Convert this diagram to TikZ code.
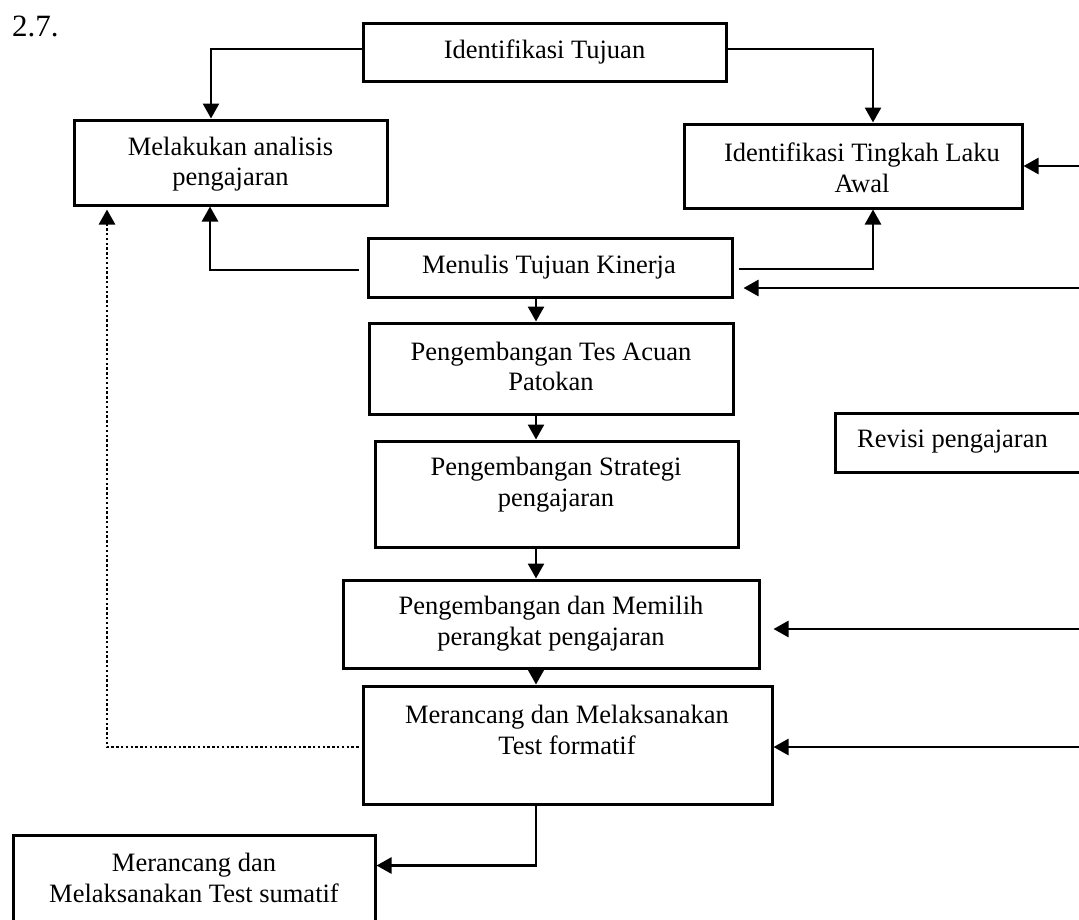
\documentclass[tikz,border=0pt]{standalone}
\usepackage{fontspec}
\setmainfont{Liberation Serif}
\usetikzlibrary{arrows.meta}
\newcommand\boxfont{\fontsize{26.5pt}{30.5pt}\selectfont}
\newcommand\headfont{\fontsize{31pt}{36pt}\selectfont}
\begin{document}
\begin{tikzpicture}[x=1pt,y=-1pt,
  box/.style={draw, line width=3pt, inner sep=0pt},
  txt/.style={font=\boxfont, align=center, inner sep=0pt},
  arr/.style={line width=2.6pt, -{Triangle[length=15pt,width=16pt]}},
  dotline/.style={line width=2.6pt, dash pattern=on 2.4pt off 2.4pt, -{Triangle[length=15pt,width=16pt]}}]
\useasboundingbox (0,0) rectangle (1079,919);
\clip (0,0) rectangle (1079,919);
\fill[white] (0,0) rectangle (1079,919);

% section number
\node[font=\headfont, anchor=base west, inner sep=0pt] (num) at (12,36) {2.7.};

% boxes
\node[box, minimum width=363pt, minimum height=58pt]  (tuj) at (544.5,52) {};
\node[box, minimum width=313pt, minimum height=85pt]  (anl) at (230.5,162.5) {};
\node[box, minimum width=338pt, minimum height=84pt]  (tlk) at (853,166) {};
\node[box, minimum width=364pt, minimum height=59pt]  (kin) at (550,267.5) {};
\node[box, minimum width=364pt, minimum height=91pt]  (tes) at (551,368.5) {};
\node[box, minimum width=363pt, minimum height=106pt] (str) at (556.5,494) {};
\node[box, minimum width=416pt, minimum height=88pt]  (pil) at (551,624) {};
\node[box, minimum width=409pt, minimum height=118pt] (frm) at (567.5,745) {};
\node[box, minimum width=362pt, minimum height=110pt] (sum) at (194,890) {};
\node[box, minimum width=275pt, minimum height=59pt]  (rev) at (972.5,442.5) {};

% box texts
\node[txt] (tuj-t) at (544.5,52) {Identifikasi Tujuan};
\node[txt] (anl-t) at (230.5,164) {Melakukan analisis\\pengajaran};
\node[txt] (tlk-t) at (862,168) {Identifikasi Tingkah Laku\\Awal};
\node[txt] (kin-t) at (549,267) {Menulis Tujuan Kinerja};
\node[txt] (tes-t) at (551,366.5) {Pengembangan Tes Acuan\\Patokan};
\node[txt] (str-t) at (556,484.5) {Pengembangan Strategi\\pengajaran};
\node[txt] (pil-t) at (551,623.5) {Pengembangan dan Memilih\\perangkat pengajaran};
\node[txt] (frm-t) at (567,730) {Merancang dan Melaksanakan\\Test formatif};
\node[txt] (sum-t) at (194,878) {Merancang dan\\Melaksanakan Test sumatif};
\node[txt, anchor=west] (rev-t) at (857,442) {Revisi pengajaran};

% helper points
\coordinate (spine) at (536,0);
\coordinate (r1) at (1090,166);
\coordinate (r2) at (1090,288);
\coordinate (r3) at (1090,629);
\coordinate (r4) at (1090,747);
\coordinate (kinR) at ([xshift=10pt]kin.east);
\coordinate (pilR) at ([xshift=13pt]pil.east);
\coordinate (sumIn) at ([yshift=-32pt]sum.north east);

% top branches
\draw[arr] ([yshift=3pt]tuj.west) -| ([xshift=-19.5pt]anl.north);
\draw[arr] ([yshift=3pt]tuj.east) -| ([xshift=20pt]tlk.north);

% from the performance objectives box
\draw[arr] ([xshift=-8pt,yshift=-2.5pt]kin.west) -| ([xshift=-20.5pt]anl.south);
\draw[arr] ([xshift=5pt,yshift=-1.5pt]kin.east) -| ([xshift=20pt]tlk.south);

% main column
\draw[arr] (kin.south -| spine) -- (tes.north -| spine);
\draw[arr] (tes.south -| spine) -- (str.north -| spine);
\draw[arr] (str.south -| spine) -- (pil.north -| spine);
\draw[arr] (pil.south -| spine) -- (frm.north -| spine);
\draw[arr] (frm.south -| spine) |- (sumIn);

% feedback from the right
\draw[arr] (r1) -- (tlk.east);
\draw[arr] (r2) -- (kinR |- r2);
\draw[arr] (r3) -- (pilR |- r3);
\draw[arr] (r4) -- (frm.east |- r4);

% dotted feedback
\draw[dotline] ([xshift=-3pt,yshift=-2pt]frm.west) -| ([xshift=-123.5pt,yshift=-3pt]anl.south);
\end{tikzpicture}
\end{document}
